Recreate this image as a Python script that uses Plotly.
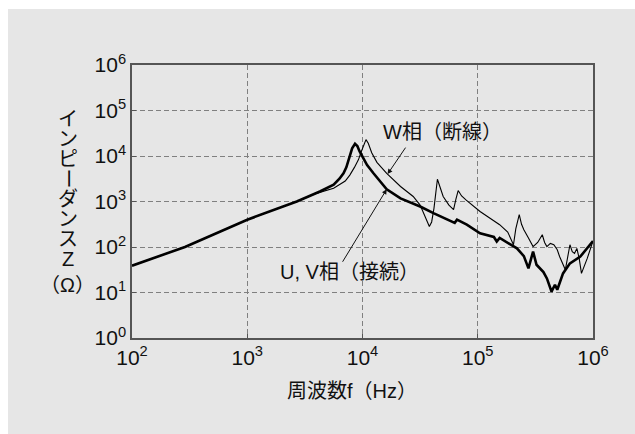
import math
import plotly.graph_objects as go

# Impedance vs frequency — U, V phases (connected) and W phase (open)
uv_freq_hz = [100, 288, 1000, 2690, 4270, 5620, 6310, 6840, 7240, 7760,
              8130, 8610, 9020, 9440, 10000, 10960, 12450, 14130, 16220, 21380,
              31620, 41690, 53700, 60260, 63100, 66070, 72440, 80350, 104700, 138000,
              146200, 154900, 218800, 251200, 275400, 302000, 323600, 371500, 398100, 436500,
              467700, 489800, 549500, 631000, 776200, 1000000]
uv_z_ohm = [38.9, 100, 398, 1000, 1660, 2340, 3160, 4170, 5620, 9550,
            14800, 18600, 16600, 12600, 9550, 6310, 4170, 2820, 1860, 1170,
            776, 550, 417, 355, 339, 398, 355, 309, 200, 166,
            132, 158, 93.3, 63.1, 33.9, 79.4, 40.7, 28.2, 20.4, 10.5,
            14.8, 11.5, 26.3, 43.7, 61.7, 135]

w_freq_hz = [100, 288, 1000, 2690, 3980, 5620, 7080, 7760, 8510, 9230,
             9770, 10230, 10720, 11220, 12020, 13340, 16220, 21380, 27540, 31620,
             34670, 38020, 39810, 41690, 44670, 46770, 50120, 56230, 61660, 64570,
             67610, 72440, 79430, 104700, 154900, 182000, 204200, 213800, 229100, 239900,
             251200, 275400, 302000, 331100, 363100, 380200, 398100, 426600, 457100, 489800,
             512900, 575400, 602600, 631000, 660700, 691800, 724400, 758600, 794300, 891300,
             1000000]
w_z_ohm = [38.9, 100, 398, 1000, 1510, 1950, 2820, 3800, 5620, 8320,
           12590, 17780, 22910, 19050, 11750, 7240, 4170, 2140, 1290, 832,
           501, 282, 355, 708, 3090, 2240, 1290, 832, 661, 1120,
           1740, 1320, 1070, 603, 309, 214, 112, 251, 513, 316,
           240, 158, 102, 126, 186, 126, 102, 120, 112, 87.1,
           61.7, 31.6, 56.2, 112, 79.4, 72.4, 93.3, 56.2, 26.3, 56.2,
           135]

x_tick_vals = [1e2, 1e3, 1e4, 1e5, 1e6]
x_tick_text = ["10<sup>2</sup>", "10<sup>3</sup>", "10<sup>4</sup>", "10<sup>5</sup>", "10<sup>6</sup>"]
y_tick_vals = [1e0, 1e1, 1e2, 1e3, 1e4, 1e5, 1e6]
y_tick_text = ["10<sup>0</sup>", "10<sup>1</sup>", "10<sup>2</sup>", "10<sup>3</sup>",
               "10<sup>4</sup>", "10<sup>5</sup>", "10<sup>6</sup>"]

y_title_chars = ["イ", "ン", "ピ", "ー", "ダ", "ン", "ス", "Z"]
y_title_unit = "（Ω）"
x_title = "周波数f（Hz）"
w_label = "W相（断線）"
uv_label = "U, V相（接続）"

# Latin glyphs from a Helvetica-like face, kana/kanji from a Japanese gothic
TXT = "Liberation Sans, Noto Sans CJK JP, sans-serif"
NUM = "Liberation Sans, Arial, sans-serif"
INK = "#111111"

W, H = 635, 434
L, R, T, B = 132, 42, 65, 96
PW, PH = W - L - R, H - T - B


def px_x(p):
    return (p - L) / PW


def px_y(p):
    return (H - B - p) / PH


fig = go.Figure()
fig.add_trace(go.Scatter(x=w_freq_hz, y=w_z_ohm, mode="lines",
                         line=dict(color="black", width=1.1), showlegend=False))
fig.add_trace(go.Scatter(x=uv_freq_hz, y=uv_z_ohm, mode="lines",
                         line=dict(color="black", width=2.6), showlegend=False))

axis_common = dict(
    type="log", showgrid=True, gridcolor="#808080", gridwidth=1, griddash="5px,3px",
    showline=True, mirror=True, linecolor="#555555", linewidth=1.5,
    ticks="inside", ticklen=4, tickcolor="#555555", tickmode="array",
    tickfont=dict(family=NUM, size=21, color=INK), zeroline=False,
)
fig.update_xaxes(range=[2, 6], tickvals=x_tick_vals, ticktext=x_tick_text, **axis_common)
fig.update_yaxes(range=[0, 6], tickvals=y_tick_vals, ticktext=y_tick_text, **axis_common)

annotations = []
# vertical y-axis title, one character per row (long-vowel mark turned upright)
for i, ch in enumerate(y_title_chars):
    annotations.append(dict(xref="paper", yref="paper", x=px_x(68), y=px_y(118.5 + 20 * i),
                            text=ch, showarrow=False, xanchor="center", yanchor="middle",
                            textangle=90 if ch == "ー" else 0,
                            font=dict(family=TXT, size=20, color=INK)))
annotations.append(dict(xref="paper", yref="paper", x=px_x(67), y=px_y(285),
                        text=y_title_unit, showarrow=False, xanchor="center", yanchor="middle",
                        font=dict(family=TXT, size=20, color=INK)))
annotations.append(dict(xref="paper", yref="paper", x=px_x(352), y=px_y(391),
                        text=x_title, showarrow=False, xanchor="center", yanchor="middle",
                        font=dict(family=TXT, size=20, color=INK)))
annotations.append(dict(xref="paper", yref="paper", x=px_x(442), y=px_y(132),
                        text=w_label, showarrow=False, xanchor="center", yanchor="middle",
                        font=dict(family=TXT, size=20, color=INK)))
annotations.append(dict(xref="paper", yref="paper", x=px_x(349), y=px_y(272),
                        text=uv_label, showarrow=False, xanchor="center", yanchor="middle",
                        font=dict(family=TXT, size=20, color=INK)))
# leader arrows pointing at each curve
annotations.append(dict(xref="x", yref="y", x=math.log10(16500), y=math.log10(4000),
                        ax=19, ay=-28, text="", showarrow=True, arrowhead=2,
                        arrowsize=1, arrowwidth=1, arrowcolor=INK, standoff=0))
annotations.append(dict(xref="x", yref="y", x=math.log10(16220), y=math.log10(1860),
                        ax=-45, ay=74, text="", showarrow=True, arrowhead=2,
                        arrowsize=1, arrowwidth=1, arrowcolor=INK, standoff=0))

fig.update_layout(
    width=W, height=H,
    margin=dict(l=L, r=R, t=T, b=B),
    paper_bgcolor="white", plot_bgcolor="white",
    annotations=annotations,
    shapes=[dict(type="rect", xref="paper", yref="paper", layer="below",
                 x0=px_x(8), x1=px_x(W), y0=px_y(H), y1=px_y(9),
                 fillcolor="#e6e6e6", line=dict(width=0))],
)

fig.write_html("out.html")
